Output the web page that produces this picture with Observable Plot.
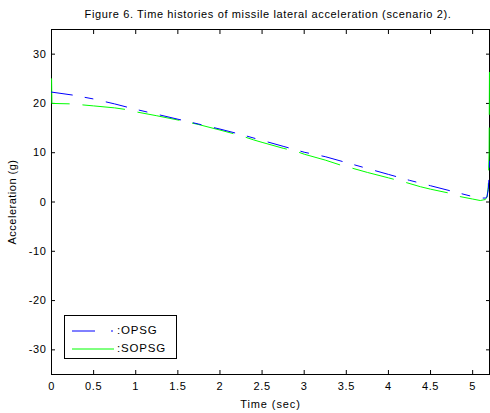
<!DOCTYPE html>
<html>
<head>
<meta charset="utf-8">
<script src="https://cdn.jsdelivr.net/npm/d3@7"></script>
<script src="https://cdn.jsdelivr.net/npm/@observablehq/plot@0.6"></script>
<style>
  html, body { margin: 0; padding: 0; background: #fff; }
  #wrap { position: relative; width: 490px; height: 413px; font-family: "Liberation Sans", Arial, sans-serif; }
  #title { height: 22px; line-height: 28px; text-align: center; font-size: 11px; color: #000; letter-spacing: 0.63px; padding-left: 46px; white-space: nowrap; }
  #legend { position: absolute; left: 64px; top: 315px; width: 113px; height: 44px; border: 1px solid #000; background: #fff; box-sizing: border-box; font-size: 11.5px; letter-spacing: 0.8px; }
  .row { position: absolute; left: 0; height: 16px; width: 112px; }
  .row svg { position: absolute; left: 0; top: 0; }
  .row span { position: absolute; left: 52px; top: 1px; }
  #chart svg text { letter-spacing: 0.6px; }
  #chart g[aria-label="x-axis label"] text { letter-spacing: 0.9px; }
  #chart g[aria-label="y-axis label"] text { letter-spacing: 0.5px; }
</style>
</head>
<body>
<div id="wrap">
  <div id="title">Figure 6. Time histories of missile lateral acceleration (scenario 2).</div>
  <div id="chart"></div>
  <div id="legend"></div>
</div>
<script>
// Data
const opsgTime = [0, 0.25, 0.5, 0.75, 1.0, 1.25, 1.5, 1.75, 2.0, 2.25, 2.5, 2.75, 3.0, 3.25, 3.5, 3.75, 4.0, 4.25, 4.5, 4.75, 5.0, 5.1, 5.15, 5.17, 5.185, 5.195, 5.2];
const opsgValue = [22.3, 21.7, 20.9, 19.9, 18.8, 17.8, 16.8, 15.8, 14.8, 13.7, 12.5, 11.3, 10.1, 9.2, 8.0, 6.8, 5.6, 4.4, 3.3, 2.2, 1.1, 0.8, 0.8, 1.0, 2.5, 5.0, 8.3];

const sopsgTime = [0, 0.005, 0.25, 0.37, 0.5, 0.75, 0.91, 1.0, 1.25, 1.57, 1.75, 2.0, 2.24, 2.4, 2.5, 2.75, 2.9, 3.0, 3.25, 3.43, 3.5, 3.75, 4.0, 4.22, 4.38, 4.5, 4.75, 4.85, 5.0, 5.09, 5.15, 5.17, 5.185, 5.195, 5.2];
const sopsgValue = [26.3, 20.0, 19.9, 19.7, 19.5, 19.1, 18.7, 18.3, 17.5, 16.4, 15.7, 14.6, 13.5, 12.6, 12.1, 10.9, 10.3, 9.7, 8.5, 7.5, 7.2, 6.0, 4.9, 3.9, 3.1, 2.6, 1.7, 1.1, 0.6, 0.3, 0.5, 1.0, 3.0, 10.0, 28.5];

const seriesNames = [":OPSG", ":SOPSG"];
const seriesColors = ["#0000ff", "#00ff00"];

const xTicks = [0, 0.5, 1, 1.5, 2, 2.5, 3, 3.5, 4, 4.5, 5];
const yTicks = [-30, -20, -10, 0, 10, 20, 30];
const xDomain = [0, 5.2];
const yDomain = [-35, 35];

const opsg = opsgTime.map((t, i) => ({t, v: opsgValue[i]}));
const sopsg = sopsgTime.map((t, i) => ({t, v: sopsgValue[i]}));

const fmt = d => String(d);

const chart = Plot.plot({
  width: 490,
  height: 391,
  marginLeft: 51,
  marginRight: 1,
  marginTop: 7,
  marginBottom: 39,
  style: {fontFamily: "'Liberation Sans', Arial, sans-serif", fontSize: "11px", background: "#fff", color: "#000"},
  x: {domain: xDomain},
  y: {domain: yDomain},
  marks: [
    Plot.frame({stroke: "#000", strokeWidth: 1}),
    Plot.axisX(xTicks, {anchor: "bottom", tickSize: -4, tickPadding: 12, tickFormat: fmt, label: "Time (sec)", labelAnchor: "center", labelOffset: 33, labelArrow: "none", dx: 0}),
    Plot.axisX(xTicks, {anchor: "top", tickSize: -4, tickFormat: () => "", label: null}),
    Plot.axisY(yTicks, {anchor: "left", tickSize: -4, tickPadding: 9, tickFormat: fmt, label: "Acceleration (g)", labelAnchor: "center", labelOffset: 43, labelArrow: "none"}),
    Plot.axisY(yTicks, {anchor: "right", tickSize: -4, tickFormat: () => "", label: null}),
    Plot.line(sopsg, {x: "t", y: "v", stroke: seriesColors[1], strokeWidth: 1, strokeDasharray: "42,13.6", strokeDashoffset: 49.2}),
    Plot.line(opsg, {x: "t", y: "v", stroke: seriesColors[0], strokeWidth: 1, strokeDasharray: "21,13,8,13.6"})
  ]
});
document.getElementById("chart").appendChild(chart);

// Legend
const legend = document.getElementById("legend");
seriesNames.forEach((name, i) => {
  const row = document.createElement("div");
  row.className = "row";
  row.style.top = (i === 0 ? 7 : 25) + "px";
  const svg = d3.create("svg").attr("width", 52).attr("height", 16);
  svg.append("line")
    .attr("x1", 7).attr("x2", i === 0 ? 48 : 49)
    .attr("y1", 8).attr("y2", 8)
    .attr("stroke", seriesColors[i]).attr("stroke-width", 1)
    .attr("stroke-dasharray", i === 0 ? "23,16,2,20" : null);
  row.appendChild(svg.node());
  const span = document.createElement("span");
  span.textContent = name;
  row.appendChild(span);
  legend.appendChild(row);
});
</script>
</body>
</html>
